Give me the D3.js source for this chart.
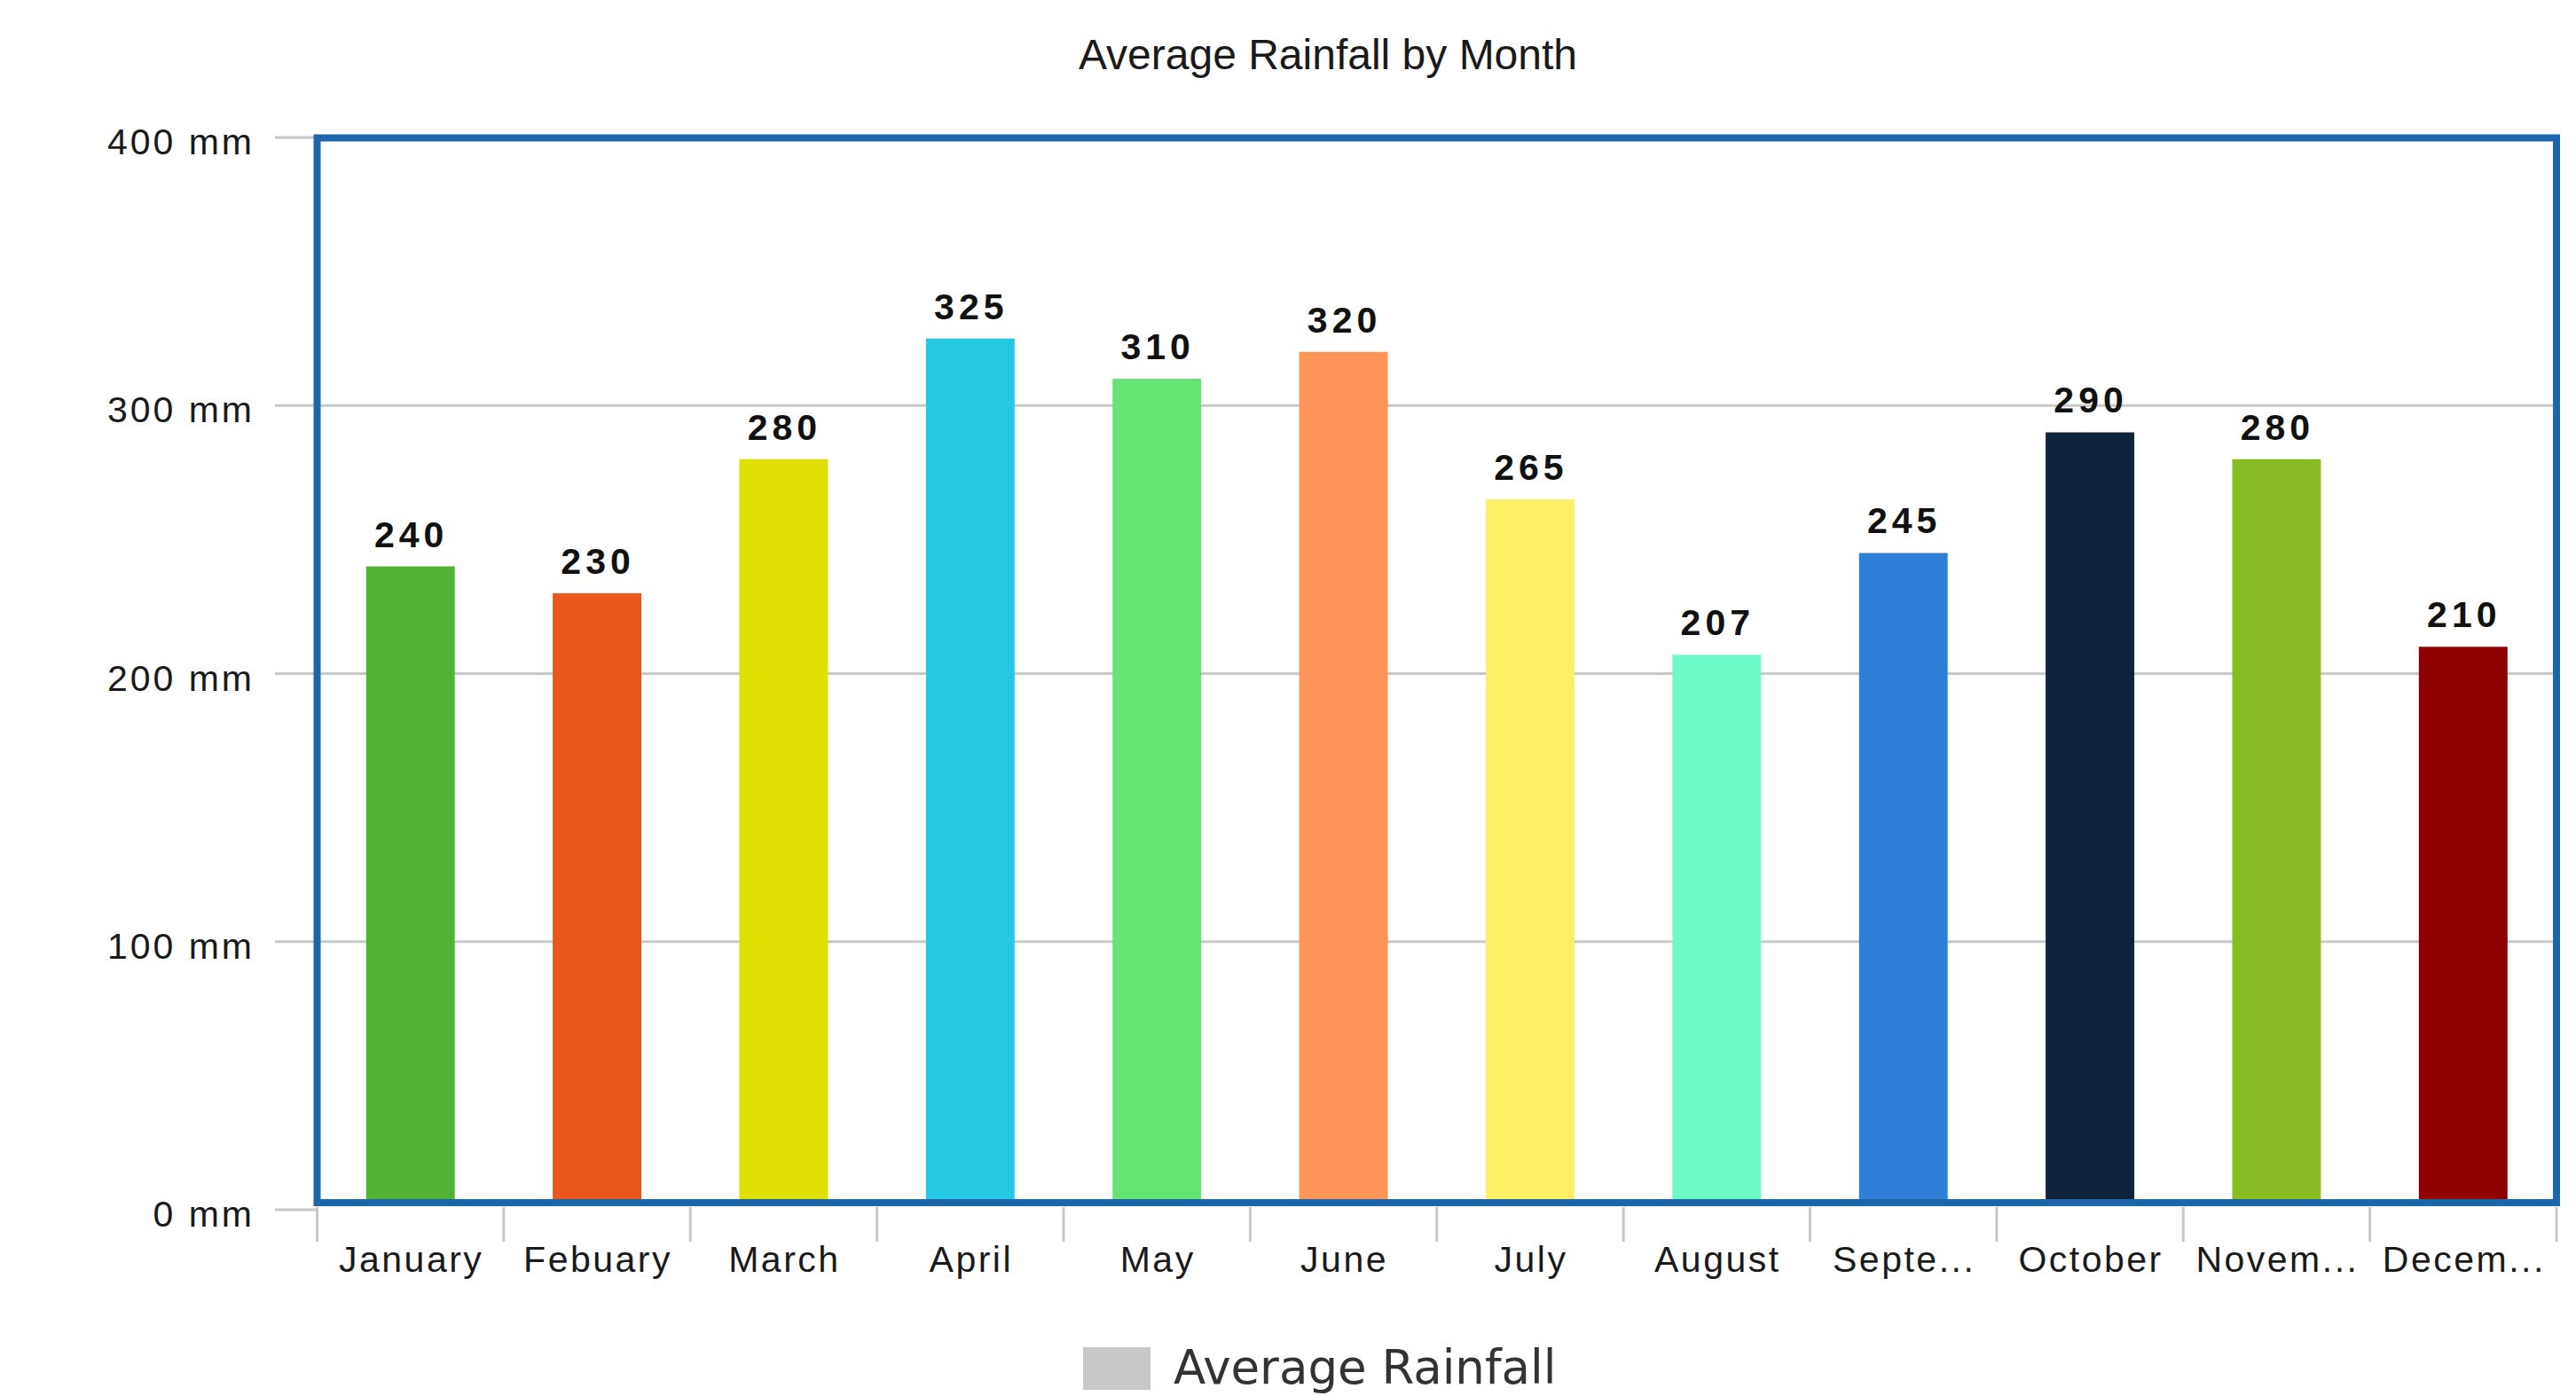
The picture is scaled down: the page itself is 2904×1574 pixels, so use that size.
<!DOCTYPE html>
<html>
<head>
<meta charset="utf-8">
<script src="https://cdn.jsdelivr.net/npm/d3@7"></script>
<style>
  html, body { margin: 0; padding: 0; background: #ffffff; }
  svg { display: block; }
</style>
</head>
<body>
<svg id="chart" width="2904" height="1574"></svg>
<script>
// ---- data ----
const months = ["January", "Febuary", "March", "April", "May", "June", "July", "August", "September", "October", "November", "December"];
const tickLabels = ["January", "Febuary", "March", "April", "May", "June", "July", "August", "Septe...", "October", "Novem...", "Decem..."];
const rainfall = [240, 230, 280, 325, 310, 320, 265, 207, 245, 290, 280, 210];
const barColors = ["#52b233", "#ea571e", "#dde000", "#25c9e4", "#66e473", "#fe9457", "#fcf064", "#6cfbc6", "#2f7ed8", "#0e243a", "#89bc22", "#8f0000"];
const yTicks = [0, 100, 200, 300, 400];
const chartTitle = "Average Rainfall by Month";
const legendLabel = "Average Rainfall";

// ---- layout ----
const W = 2904, H = 1574;
const plot = { left: 357.5, right: 2882, top: 155.5, bottom: 1356 };
const svg = d3.select("#chart");

const x = d3.scaleBand().domain(months).range([plot.left, plot.right]).padding(0);
const y = d3.scaleLinear().domain([0, 400]).range([1364, 155]);

const gridColor = "#c8c8c8";
const frameColor = "#1b67aa";
const labelFont = "'Liberation Sans', Arial, sans-serif";

// title
svg.append("text")
  .attr("x", 1497).attr("y", 78)
  .attr("text-anchor", "middle")
  .attr("font-family", labelFont)
  .attr("font-size", 48)
  .attr("fill", "#1a1a1a")
  .text(chartTitle);

// gridlines
svg.append("g").selectAll("line").data(yTicks).join("line")
  .attr("x1", 310).attr("x2", plot.right)
  .attr("y1", d => y(d)).attr("y2", d => y(d))
  .attr("stroke", gridColor).attr("stroke-width", 3);

// y tick labels
svg.append("g").selectAll("text").data(yTicks).join("text")
  .attr("x", 287).attr("y", d => y(d) + 19)
  .attr("text-anchor", "end")
  .attr("font-family", labelFont)
  .attr("font-size", 41)
  .attr("letter-spacing", 3)
  .attr("fill", "#1a1a1a")
  .text(d => d + " mm");

// bars
const barW = x.bandwidth() * 0.475;
svg.append("g").selectAll("rect").data(rainfall).join("rect")
  .attr("x", (d, i) => x(months[i]) + (x.bandwidth() - barW) / 2)
  .attr("y", d => y(d))
  .attr("width", barW)
  .attr("height", d => y(0) - y(d))
  .attr("fill", (d, i) => barColors[i]);

// value labels
svg.append("g").selectAll("text").data(rainfall).join("text")
  .attr("x", (d, i) => x(months[i]) + x.bandwidth() / 2 + 1)
  .attr("y", d => y(d) - 22)
  .attr("text-anchor", "middle")
  .attr("font-family", labelFont)
  .attr("font-weight", "bold")
  .attr("font-size", 41)
  .attr("letter-spacing", 5)
  .attr("fill", "#111111")
  .text(d => d);

// white cover below plot bottom so bars end at frame
svg.append("rect")
  .attr("x", plot.left).attr("y", plot.bottom)
  .attr("width", plot.right - plot.left).attr("height", y(0) - plot.bottom + 2)
  .attr("fill", "#ffffff");

// x ticks at category boundaries
const boundaries = months.map(m => x(m)).concat([plot.right]);
svg.append("g").selectAll("line").data(boundaries).join("line")
  .attr("x1", d => d).attr("x2", d => d)
  .attr("y1", 1361).attr("y2", 1400)
  .attr("stroke", gridColor).attr("stroke-width", 3);

// plot frame
svg.append("rect")
  .attr("x", plot.left).attr("y", plot.top)
  .attr("width", plot.right - plot.left)
  .attr("height", plot.bottom - plot.top)
  .attr("fill", "none")
  .attr("stroke", frameColor)
  .attr("stroke-width", 8);

// x tick labels
svg.append("g").selectAll("text").data(months).join("text")
  .attr("x", d => x(d) + x.bandwidth() / 2 + 1)
  .attr("y", 1434)
  .attr("text-anchor", "middle")
  .attr("font-family", labelFont)
  .attr("font-size", 41)
  .attr("letter-spacing", 2.5)
  .attr("fill", "#1a1a1a")
  .text((d, i) => tickLabels[i]);

// legend
const legend = svg.append("g");
legend.append("rect")
  .attr("x", 1221).attr("y", 1519)
  .attr("width", 76).attr("height", 48)
  .attr("fill", "#c8c8c8");
legend.append("text")
  .attr("x", 1323).attr("y", 1560)
  .attr("font-family", "'DejaVu Sans', Verdana, sans-serif")
  .attr("font-size", 53)
  .attr("fill", "#333333")
  .text(legendLabel);
</script>
</body>
</html>
